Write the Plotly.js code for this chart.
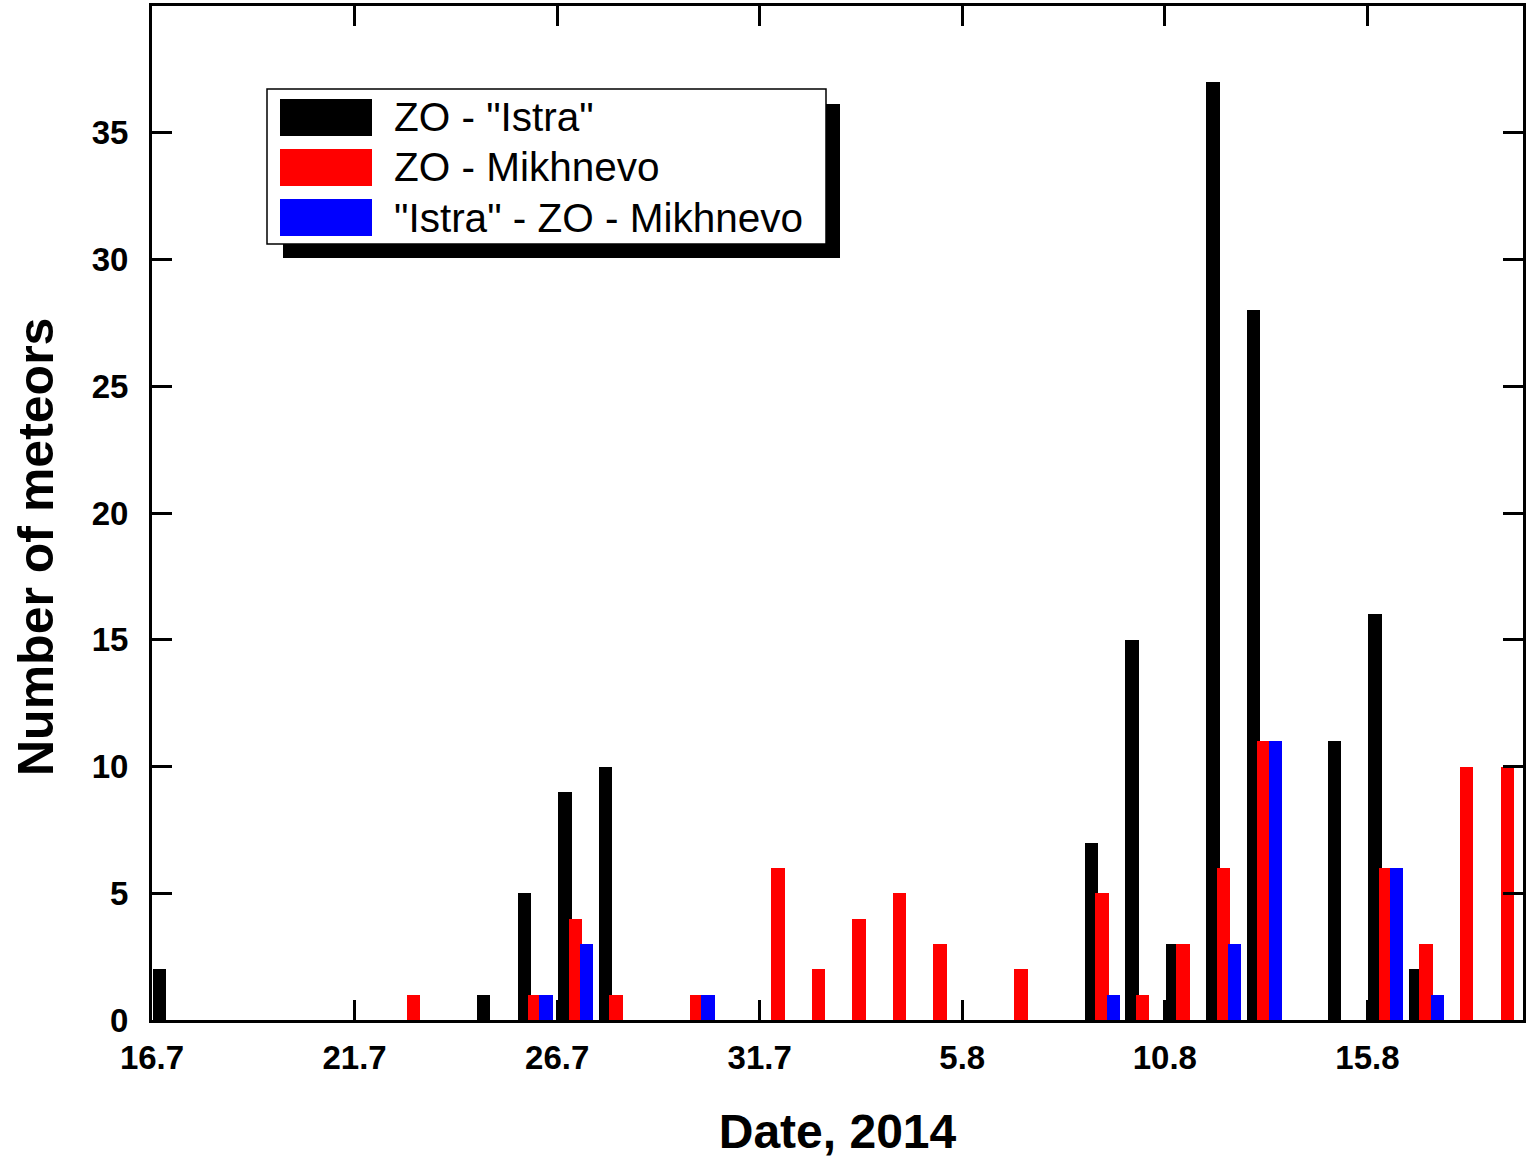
<!DOCTYPE html>
<html><head><meta charset="utf-8">
<script src="https://cdn.plot.ly/plotly-3.0.1.min.js"></script>
<style>html,body{margin:0;padding:0;background:#fff}#chart{width:1526px;height:1159px}</style>
</head><body><div id="chart"></div>
<script>
// Data (counts of meteors per day, 2014)
const istraDates = ['2014-07-16','2014-07-24','2014-07-25','2014-07-26','2014-07-27','2014-08-08','2014-08-09','2014-08-10','2014-08-11','2014-08-12','2014-08-14','2014-08-15','2014-08-16'];
const istraCounts = [2,1,5,9,10,7,15,3,37,28,11,16,2];
const mikhDates = ['2014-07-22','2014-07-25','2014-07-26','2014-07-27','2014-07-29','2014-07-31','2014-08-01','2014-08-02','2014-08-03','2014-08-04','2014-08-06','2014-08-08','2014-08-09','2014-08-10','2014-08-11','2014-08-12','2014-08-15','2014-08-16','2014-08-17','2014-08-18'];
const mikhCounts = [1,1,4,1,1,6,2,4,5,3,2,5,1,3,6,11,6,3,10,10];
const tripleDates = ['2014-07-25','2014-07-26','2014-07-29','2014-08-08','2014-08-11','2014-08-12','2014-08-15','2014-08-16'];
const tripleCounts = [1,3,1,1,3,11,6,1];
const seriesNames = ['ZO - "Istra"', 'ZO - Mikhnevo', '"Istra" - ZO - Mikhnevo'];
const seriesColors = ['#000000', '#ff0000', '#0000ff'];
const yTicks = [0,5,10,15,20,25,30,35];

const DAY = 86400000;
const BW = 0.33 * DAY;
const offsets = [0.025 * DAY, 0.285 * DAY, 0.56 * DAY];
const xs = [istraDates, mikhDates, tripleDates];
const ys = [istraCounts, mikhCounts, tripleCounts];

const traces = xs.map((x, i) => ({
  type: 'bar', x: x, y: ys[i], name: seriesNames[i],
  width: BW, offset: offsets[i],
  marker: {color: seriesColors[i], line: {width: 0}},
  showlegend: false
}));

// plot area in pixels
const L = 152, R = 1523, T = 6, B = 1020;
const W = 1526, H = 1159;
const px = x => (x - L) / (R - L);
const py = y => (B - y) / (B - T);

const tickFont = {family: 'Liberation Sans, Arial, sans-serif', size: 33, color: '#000', weight: 'bold'};
const legFont = {family: 'Liberation Sans, Arial, sans-serif', size: 40.5, color: '#000'};

const shapes = [
  {type: 'rect', xref: 'paper', yref: 'paper', x0: px(283), x1: px(840), y0: py(258), y1: py(104), fillcolor: '#000', line: {width: 0}, layer: 'above'},
  {type: 'rect', xref: 'paper', yref: 'paper', x0: px(267), x1: px(826), y0: py(244), y1: py(89), fillcolor: '#fff', line: {width: 1.5, color: '#000'}, layer: 'above'}
];
const annotations = [];
seriesNames.forEach((n, i) => {
  const top = 99 + i * 50;
  shapes.push({type: 'rect', xref: 'paper', yref: 'paper', x0: px(280), x1: px(372), y0: py(top + 37), y1: py(top), fillcolor: seriesColors[i], line: {width: 0}, layer: 'above'});
  annotations.push({xref: 'paper', yref: 'paper', x: px(392), y: py(top + 18.5), xanchor: 'left', yanchor: 'middle', text: n, showarrow: false, font: legFont});
});
annotations.push({xref: 'paper', yref: 'paper', x: px(36), y: py(547), xanchor: 'center', yanchor: 'middle', textangle: -90, text: 'Number of meteors', showarrow: false, font: {family: 'Liberation Sans, Arial, sans-serif', size: 50, color: '#000', weight: 'bold'}});

const layout = {
  width: W, height: H,
  margin: {l: L, r: W - R, t: T, b: H - B, pad: 0},
  paper_bgcolor: '#fff', plot_bgcolor: '#fff',
  barmode: 'overlay', bargap: 0,
  font: {family: 'Liberation Sans, Arial, sans-serif', color: '#000'},
  xaxis: {
    type: 'date', range: ['2014-07-16', '2014-08-18 20:10'],
    tick0: '2014-07-16', dtick: 5 * DAY, tickformat: '%-d.%-m',
    ticks: 'inside', ticklen: 20, tickwidth: 3, tickcolor: '#000',
    showline: true, linewidth: 3, linecolor: '#000', mirror: 'ticks',
    showgrid: false, zeroline: false, tickfont: tickFont, ticklabelstandoff: 6,
    title: {text: 'Date, 2014', font: {family: 'Liberation Sans, Arial, sans-serif', size: 48, color: '#000', weight: 'bold'}, standoff: 40},
    automargin: false, fixedrange: true
  },
  yaxis: {
    range: [0, 40], tickvals: yTicks,
    ticks: 'inside', ticklen: 20, tickwidth: 3, tickcolor: '#000',
    showline: true, linewidth: 3, linecolor: '#000', mirror: 'ticks',
    showgrid: false, zeroline: false, tickfont: tickFont, ticklabelstandoff: 14,
    automargin: false, fixedrange: true
  },
  shapes: shapes, annotations: annotations
};
Plotly.newPlot('chart', traces, layout, {displayModeBar: false, staticPlot: true});
</script></body></html>
